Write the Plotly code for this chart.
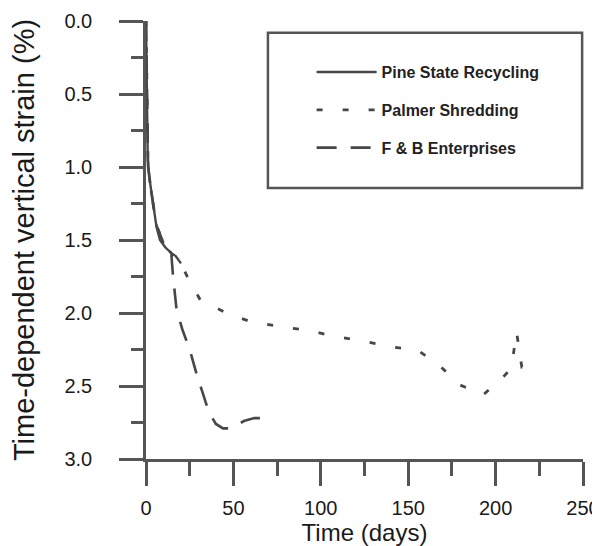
import plotly.graph_objects as go

# ---- data ----
pine_days = [0, 0.2, 0.4, 1, 2, 3.3, 4.5, 6, 8, 11, 14.5, 17, 20]
pine_strain = [0, 0.3, 0.6, 0.95, 1.08, 1.18, 1.3, 1.41, 1.5, 1.55, 1.59, 1.61, 1.66]

palmer_days = [0, 0.3, 0.6, 1.2, 3, 6, 10, 15, 20, 24, 31, 46, 60, 75, 93, 108,
               123, 140, 156, 168, 179, 193, 205, 209, 212, 215, 222]
palmer_strain = [0, 0.35, 0.7, 1.0, 1.17, 1.4, 1.52, 1.6, 1.66, 1.76, 1.91, 2.0,
                 2.06, 2.09, 2.12, 2.16, 2.19, 2.23, 2.26, 2.36, 2.49, 2.56, 2.43,
                 2.38, 2.13, 2.37, 2.35]

fb_days = [0, 0.3, 0.6, 1.2, 3, 6, 10, 14.5, 15.5, 17.5, 21, 25, 29, 33, 36, 40,
           44, 48, 52, 56, 62, 70]
fb_strain = [0, 0.35, 0.7, 1.0, 1.17, 1.4, 1.52, 1.6, 1.75, 1.98, 2.12, 2.25,
             2.42, 2.57, 2.68, 2.76, 2.79, 2.79, 2.77, 2.74, 2.72, 2.72]

series_names = ["Pine State Recycling", "Palmer Shredding", "F & B Enterprises"]

x_ticks = [0, 50, 100, 150, 200, 250]
y_ticks = [0.0, 0.5, 1.0, 1.5, 2.0, 2.5, 3.0]

font_family = "Liberation Sans, Arial, sans-serif"
ink = "#474747"

fig = go.Figure()
fig.add_trace(go.Scatter(x=pine_days, y=pine_strain, mode="lines", name=series_names[0],
                         legendgroup="a",
                         line=dict(color=ink, width=2.4, dash="solid")))
fig.add_trace(go.Scatter(x=palmer_days, y=palmer_strain, mode="lines", name=series_names[1],
                         legendgroup="b",
                         line=dict(color=ink, width=2.8, dash="6px,20px")))
fig.add_trace(go.Scatter(x=fb_days, y=fb_strain, mode="lines", name=series_names[2],
                         legendgroup="c",
                         line=dict(color=ink, width=2.6, dash="20px,14px")))

# page body has an 8px margin, so the figure is sized to fill the rest of the window
fig.update_layout(
    width=592, height=538,
    margin=dict(l=138, r=17, t=13, b=87, autoexpand=False),
    paper_bgcolor="white", plot_bgcolor="white",
    font=dict(family=font_family, color="#222"),
    showlegend=True,
    legend=dict(x=0.379, y=0.922, xanchor="left", yanchor="top",
                bgcolor="rgba(0,0,0,0)", borderwidth=0,
                font=dict(size=16, family=font_family, color="#222", weight="bold"),
                tracegroupgap=14, itemwidth=60),
    shapes=[dict(type="rect", xref="paper", yref="paper",
                 x0=0.279, x1=0.998, y0=0.619, y1=0.973,
                 line=dict(color="#555", width=2.5), fillcolor="rgba(0,0,0,0)")],
)

fig.update_xaxes(
    range=[0, 250], tickvals=x_ticks, ticktext=[str(v) for v in x_ticks],
    automargin=False, ticklabeloverflow="allow",
    showline=True, linecolor="#555", linewidth=2.5,
    ticks="outside", ticklen=24, tickwidth=2.5, tickcolor="#555",
    minor=dict(dtick=25, ticks="outside", ticklen=14, tickwidth=2.5, tickcolor="#555"),
    showgrid=False, zeroline=False,
    tickfont=dict(size=20, color="#1a1a1a"),
    ticklabelstandoff=5,
    title=dict(text="Time (days)", font=dict(size=24, color="#1a1a1a"), standoff=0),
)
fig.update_yaxes(
    range=[3, 0], tickvals=y_ticks, ticktext=[f"{v:.1f}" for v in y_ticks],
    automargin=False,
    showline=True, linecolor="#555", linewidth=2.5,
    ticks="outside", ticklen=24, tickwidth=2.5, tickcolor="#555",
    minor=dict(dtick=0.25, ticks="outside", ticklen=12, tickwidth=2.5, tickcolor="#555"),
    showgrid=False, zeroline=False,
    tickfont=dict(size=20, color="#1a1a1a"),
    ticklabelstandoff=23,
    title=dict(text="Time-dependent vertical strain (%)", font=dict(size=29, color="#1a1a1a"),
               standoff=32),
)

fig.write_html("out.html")
